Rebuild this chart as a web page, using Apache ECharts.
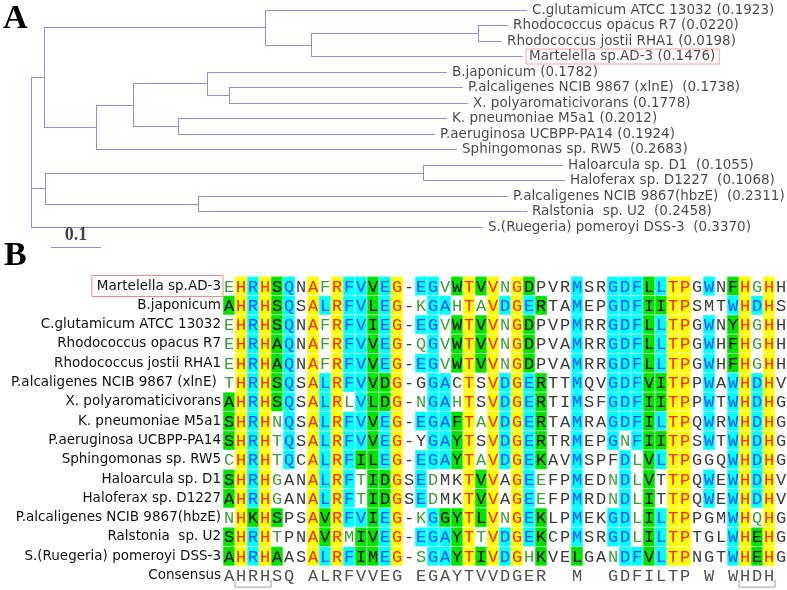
<!DOCTYPE html>
<html><head><meta charset="utf-8">
<script src="https://cdn.jsdelivr.net/npm/echarts@6/dist/echarts.min.js"></script>
<style>html,body{margin:0;padding:0;background:#fff}#c{width:787px;height:590px}</style>
</head><body><div id="c"></div>
<script>
// ---------- Panel A: phylogenetic tree ----------
// parent index and branch length (tree units; 0.1 = scale bar) of each node, depth-first order
const nodeParent   = [-1, 0, 1, 2, 2, 4, 5, 5, 4, 1, 9, 10, 11, 11, 13, 13, 10, 16, 16, 9, 0, 20, 21, 21, 20, 24, 24, 0];
const branchLength = [0, 0.026, 0.442, 0.524, 0.092, 0.334, 0.060, 0.048, 0.424, 0.104, 0.074, 0.148, 0.480, 0.044, 0.468, 0.478, 0.090, 0.538, 0.514, 0.722, 0.028, 0.756, 0.280, 0.284, 0.306, 0.620, 0.658, 0.904];
const treeLeafNames = ['C.glutamicum ATCC 13032', 'Rhodococcus opacus R7', 'Rhodococcus jostii RHA1', 'Martelella sp.AD-3', 'B.japonicum', 'P.alcaligenes NCIB 9867 (xlnE) ', 'X. polyaromaticivorans', 'K. pneumoniae M5a1', 'P.aeruginosa UCBPP-PA14', 'Sphingomonas sp. RW5 ', 'Haloarcula sp. D1 ', 'Haloferax sp. D1227 ', 'P.alcaligenes NCIB 9867(hbzE) ', 'Ralstonia  sp. U2 ', 'S.(Ruegeria) pomeroyi DSS-3 '];
const treeLeafValues = ['0.1923', '0.0220', '0.0198', '0.1476', '0.1782', '0.1738', '0.1778', '0.2012', '0.1924', '0.2683', '0.1055', '0.1068', '0.2311', '0.2458', '0.3370'];
const scaleBarLength = 0.1;
const highlightLeaf = 'Martelella sp.AD-3';

// ---------- Panel B: alignment ----------
const alignNames = ['Martelella sp.AD-3', 'B.japonicum', 'C.glutamicum ATCC 13032', 'Rhodococcus opacus R7', 'Rhodococcus jostii RHA1', 'P.alcaligenes NCIB 9867 (xlnE) ', 'X. polyaromaticivorans', 'K. pneumoniae M5a1', 'P.aeruginosa UCBPP-PA14', 'Sphingomonas sp. RW5', 'Haloarcula sp. D1', 'Haloferax sp. D1227', 'P.alcaligenes NCIB 9867(hbzE)', 'Ralstonia  sp. U2', 'S.(Ruegeria) pomeroyi DSS-3'];
const sequences = [
  'EHRHSQNAFRFVVEG-EGVWTVVNGDPVRMSRGDFLLTPGWNFHGHH',
  'AHRHSQSALRFVLEG-KGAHTAVDGERTAMEPGDFIITPSMTWHDHS',
  'EHRHSQNAFRFVIEG-EGVWTVVNGDPVPMRRGDFLLTPGWNYHGHH',
  'EHRHAQNAFRFVVEG-QGVWTVVNGDPVAMRRGDFLLTPGWHFHGHH',
  'EHRHAQNAFRFVVEG-EGVWTVVNGDPVAMRRGDFLLTPGWHFHGHH',
  'THRHSQSALRFVVDG-GGACTSVDGERTTMQVGDFVITPPWAWHDHV',
  'AHRHSQSALRLVLDG-NGAHTSVDGERTIMSFGDFIITPPWTWHDHG',
  'SHRHNQSALRFVVEG-EGAFTAVDGERTAMRAGDFILTPQWRWHDHG',
  'SHRHTQSALRFVVEG-YGAYTSVDGERTRMEPGNFIITPSWTWHDHG',
  'CHRHTQCALRFILEG-EGAYTAVDGEKAVMSPFDLVLTPGGQWHDHG',
  'SHRHGANALRFTIDGSEDMKTVVAGEEFPMEDNDLVTTPQWEWHDHV',
  'AHRHGANALRFTIDGSEDMKTVVAGEEFPMRDNDLITTPQWEWHDHV',
  'NHKHSPSAVRFVIEG-KGGYTLVNGEKLPMEKGDLILTPPGMWHQHG',
  'SHRHTPNAVRMIVEG-EGAYTTVDGEKCPMSRGDLILTPTGLWHEHG',
  'AHRHAASALRFIMEG-SGAYTIVDGHKVELGANDFVLTPNGTWHEHG'
];
// residue classes: Y identical, C conserved, G similar block, W weakly similar, N non-similar
const residueClasses = [
  'WYCYGCNYWYCCGCYNCCWGYGYWYGNNNCNNCCCGCYYNCNGYWYN',
  'GYCYGCNYCYCCGCYNWCCWYWYCYCGNNCNNCCCGGYYNNNCYCYN',
  'WYCYGCNYWYCCGCYNCCWGYGYWYGNNNCNNCCCGCYYNCNGYWYN',
  'WYCYGCNYWYCCGCYNWCWGYGYWYGNNNCNNCCCGCYYNCNGYWYN',
  'WYCYGCNYWYCCGCYNCCWGYGYWYGNNNCNNCCCGCYYNCNGYWYN',
  'WYCYGCNYCYCCGGYNNCCNYNYCYCGNNCNNCCCGGYYNCNCYCYN',
  'GYCYGCNYCYWCGGYNWCCWYNYCYCGNNCNNCCCGGYYNCNCYCYN',
  'GYCYWCNYCYCCGCYNCCCGYWYCYCGNNCNNCCCGCYYNCNCYCYN',
  'GYCYWCNYCYCCGCYNNCCGYNYCYCGNNCNNCWCGGYYNCNCYCYN',
  'WYCYWCNYCYCGGCYNCCCGYWYCYCGNNCNNNCWGCYYNNNCYCYN',
  'GYCYWNNYCYCWGGYNCWNNYGYNYCWNNCNNWCWGNYYNCNCYCYN',
  'GYCYWNNYCYCWGGYNCWNNYGYNYCWNNCNNWCWGNYYNCNCYCYN',
  'WYGYGNNYGYCCGCYNWCGGYGYWYCGNNCNNCCWGCYYNNNCYWYN',
  'GYCYWNNYGYWGGCYNCCCGYWYCYCGNNCNNCCWGCYYNNNCYGYN',
  'GYCYGNNYCYCGGCYNWCCGYGYCYWGNNGNNWCCGCYYNNNCYGYN'
];
const consensus = 'AHRHSQ ALRFVVEG EGAYTVVDGER  M  GDFILTP W WHDH ';
const motifRanges = [[2, 4], [44, 46]];

// ---------- styles ----------
const classStyle = {
  Y: {bg: '#ffff00', fg: '#ff2200'},
  C: {bg: '#00ffff', fg: '#0050ff'},
  G: {bg: '#00e400', fg: '#000000'},
  W: {bg: null, fg: '#3a9f3a'},
  N: {bg: null, fg: '#3c3c3c'},
  K: {bg: null, fg: '#505050'}
};
const treeColor = '#8c8cf2';
const sansFont = '"DejaVu Sans"';

// ---------- tree layout from the data ----------
const n = nodeParent.length;
const children = nodeParent.map(() => []);
nodeParent.forEach((p, i) => { if (p >= 0) children[p].push(i); });
const nodeX = new Array(n).fill(0);
for (let i = 1; i < n; i++) nodeX[i] = nodeX[nodeParent[i]] + branchLength[i];
const nodeY = new Array(n).fill(0);
let leafIdx = 0; const leafNodes = [];
for (let i = 0; i < n; i++) if (children[i].length === 0) { nodeY[i] = leafIdx++; leafNodes.push(i); }
for (let i = n - 1; i >= 0; i--) if (children[i].length) {
  const ys = children[i].map(c => nodeY[c]);
  nodeY[i] = (Math.min(...ys) + Math.max(...ys)) / 2;
}
const treeSegments = [];
for (let i = 0; i < n; i++) {
  if (nodeParent[i] >= 0) treeSegments.push({coords: [[nodeX[nodeParent[i]], nodeY[i]], [nodeX[i], nodeY[i]]]});
  if (children[i].length) {
    const ys = children[i].map(c => nodeY[c]);
    treeSegments.push({coords: [[nodeX[i], Math.min(...ys)], [nodeX[i], Math.max(...ys)]]});
  }
}
const scaleY = leafNodes.length + 0.29;
const scaleX0 = 0.04;
treeSegments.push({coords: [[scaleX0, scaleY], [scaleX0 + scaleBarLength, scaleY]]});

const leafData = leafNodes.map((node, k) => {
  const name = treeLeafNames[k];
  const item = {value: [nodeX[node], nodeY[node]], name: name + ' (' + treeLeafValues[k] + ')'};
  if (name === highlightLeaf) {
    item.label = {borderColor: '#f28a8a', borderWidth: 1, padding: [1, 4, 0, 3], distance: 3};
  }
  return item;
});

// ---------- alignment cells ----------
const cells = [];
sequences.forEach((seq, r) => {
  for (let c = 0; c < seq.length; c++) cells.push({value: [c + 1, r], letter: seq[c], cls: residueClasses[r][c]});
});
for (let c = 0; c < consensus.length; c++) {
  if (consensus[c] !== ' ') cells.push({value: [c + 1, sequences.length], letter: consensus[c], cls: 'K'});
}
const rowNames = alignNames.concat(['Consensus']);
const nCols = sequences[0].length;

const chart = echarts.init(document.getElementById('c'), null, {renderer: 'canvas'});
chart.setOption({
  animation: false,
  backgroundColor: '#ffffff',
  grid: [
    {left: 31, top: 10, width: 600, height: 248},
    {left: 223, top: 276.35, width: 564, height: 308.8}
  ],
  xAxis: [
    {gridIndex: 0, type: 'value', min: 0, max: 1.2, show: false},
    {gridIndex: 1, type: 'value', min: 0.5, max: nCols + 0.5, show: false}
  ],
  yAxis: [
    {gridIndex: 0, type: 'value', min: 0, max: 16, inverse: true, show: false},
    {gridIndex: 1, type: 'category', data: rowNames, inverse: true,
     axisLine: {show: false}, axisTick: {show: false}, splitLine: {show: false},
     axisLabel: {
       margin: 0, interval: 0,
       formatter: v => v === highlightLeaf ? '{box|' + v + '}' : '{n|' + v + '}',
       rich: {
         n: {fontFamily: sansFont, fontSize: 13.5, color: '#111', padding: [0, 2, 0, 0]},
         box: {fontFamily: sansFont, fontSize: 13.5, color: '#111', borderColor: '#f28a8a', borderWidth: 1, padding: [4, 2, 3, 5]}
       }
     }}
  ],
  series: [
    {type: 'lines', coordinateSystem: 'cartesian2d', xAxisIndex: 0, yAxisIndex: 0, clip: false,
     lineStyle: {color: treeColor, width: 1, opacity: 1}, data: treeSegments, silent: true},
    {type: 'scatter', xAxisIndex: 0, yAxisIndex: 0, symbolSize: 0, clip: false, silent: true,
     label: {show: true, position: 'right', distance: 5, formatter: p => p.name,
             fontFamily: sansFont, fontSize: 13.5, color: '#1a1a1a'},
     data: leafData},
    {type: 'scatter', xAxisIndex: 0, yAxisIndex: 0, symbolSize: 0, clip: false, silent: true,
     label: {show: true, position: 'top', distance: 3, formatter: String(scaleBarLength),
             fontFamily: '"Liberation Serif"', fontWeight: 'bold', fontSize: 18, color: '#111'},
     data: [[scaleX0 + scaleBarLength / 2, scaleY]]},
    {type: 'custom', xAxisIndex: 1, yAxisIndex: 1, silent: true, clip: false,
     data: cells,
     renderItem: (params, api) => {
       const d = cells[params.dataIndex];
       const p = api.coord([api.value(0), api.value(1)]);
       const s = api.size([1, 1]);
       const st = classStyle[d.cls];
       const kids = [];
       if (st.bg) kids.push({type: 'rect', shape: {x: p[0] - s[0] / 2, y: p[1] - s[1] / 2, width: s[0], height: s[1]},
                             style: {fill: st.bg, stroke: 'rgba(255,255,255,0.45)', lineWidth: 1}});
       kids.push({type: 'text', style: {text: d.letter, x: p[0], y: p[1] + 1, align: 'center', verticalAlign: 'middle',
                                        font: '17px "Liberation Mono"', fill: st.fg}});
       return {type: 'group', children: kids};
     }},
    {type: 'custom', xAxisIndex: 1, yAxisIndex: 1, silent: true, clip: false,
     data: motifRanges,
     renderItem: (params, api) => {
       const a = api.coord([api.value(0) - 0.5, sequences.length]);
       const b = api.coord([api.value(1) + 0.5, sequences.length]);
       const h = api.size([1, 1])[1];
       const yb = a[1] + h * 0.6, yt = a[1] + h * 0.2;
       return {type: 'polyline', shape: {points: [[a[0], yt], [a[0], yb], [b[0], yb], [b[0], yt]]},
               style: {stroke: '#a0a0a0', fill: null, lineWidth: 1}};
     }}
  ],
  graphic: [
    {type: 'text', left: 3, top: 2, style: {text: 'A', font: 'bold 34px "Liberation Serif"', fill: '#000'}},
    {type: 'text', left: 4, top: 239, style: {text: 'B', font: 'bold 34px "Liberation Serif"', fill: '#000'}}
  ]
});
</script>
</body></html>
